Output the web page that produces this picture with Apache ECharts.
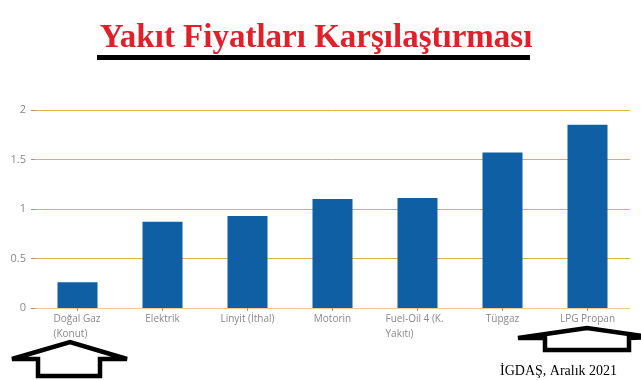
<!DOCTYPE html>
<html><head><meta charset="utf-8">
<script src="https://cdn.jsdelivr.net/npm/echarts@6/dist/echarts.min.js"></script>
<style>html,body{margin:0;padding:0;background:#fff}#c{width:641px;height:380px}</style>
</head><body><div id="c"></div>
<script>
const categories = ['Doğal Gaz\n(Konut)', 'Elektrik', 'Linyit (İthal)', 'Motorin', 'Fuel-Oil 4 (K.\nYakıtı)', 'Tüpgaz', 'LPG Propan'];
const values = [0.26, 0.87, 0.93, 1.10, 1.11, 1.57, 1.85];
const yTicks = [0, 0.5, 1, 1.5, 2];
const titleText = 'Yakıt Fiyatları Karşılaştırması';
const sourceText = 'İGDAŞ, Aralık 2021';

const chart = echarts.init(document.getElementById('c'));
function arrow(pts){
  return {type:'polygon', shape:{points:pts}, style:{fill:'#fff', stroke:'#000', lineWidth:4.5, lineJoin:'miter', miterLimit:3}, z:10};
}
chart.setOption({
  animation:false,
  title:{text:titleText, left:311, textAlign:'center', top:17, itemGap:0,
    textStyle:{fontFamily:'Liberation Serif', fontWeight:'bold', fontSize:33, color:'#E3202A'}},
  grid:{left:35, right:11, top:110, bottom:72},
  xAxis:{type:'category', data:categories,
    axisLine:{lineStyle:{color:'#F2C98C', width:1}},
    axisTick:{show:true, alignWithLabel:true, length:3, lineStyle:{color:'#9a9a9a'}},
    axisLabel:{interval:0, margin:4, color:'#8a8a8a', fontFamily:'Open Sans', fontSize:10, lineHeight:15,
      formatter:function(v){
        if(v.indexOf('\n')<0) return v;
        const parts=v.split('\n');
        const key = parts[0].length>10 ? 'w2' : 'w1';
        return parts.map(p=>'{'+key+'|'+p+'}').join('\n');
      },
      rich:{w1:{width:48, align:'left', color:'#8a8a8a', fontFamily:'Open Sans', fontSize:10, lineHeight:15},
            w2:{width:64, align:'left', color:'#8a8a8a', fontFamily:'Open Sans', fontSize:10, lineHeight:15}}
    }},
  yAxis:{type:'value', min:0, max:2, interval:0.5,
    axisLine:{show:false},
    axisTick:{show:true, length:4, lineStyle:{color:'#9a9a9a'}},
    axisLabel:{margin:9, color:'#8a8a8a', fontFamily:'Open Sans', fontSize:11,
      formatter:function(v){ return yTicks.indexOf(v)>=0 ? String(v) : ''; }},
    splitLine:{lineStyle:{color:'#E2AE4A', width:1}}},
  series:[{type:'bar', data:values, barWidth:40, itemStyle:{color:'#0F5FA5'}}],
  graphic:[
    {type:'rect', shape:{x:97, y:55, width:433, height:5}, style:{fill:'#000'}},
    arrow([[12,359],[70,342],[127,359],[100,359],[100,376],[38,376],[38,359]]),
    arrow([[518,338],[587,328],[650,337],[629,338],[629,350],[545,350],[545,338]]),
    {type:'text', left:500, top:364, style:{text:sourceText, font:'14px "Liberation Serif"', fill:'#000'}, z:11}
  ]
});
</script></body></html>
